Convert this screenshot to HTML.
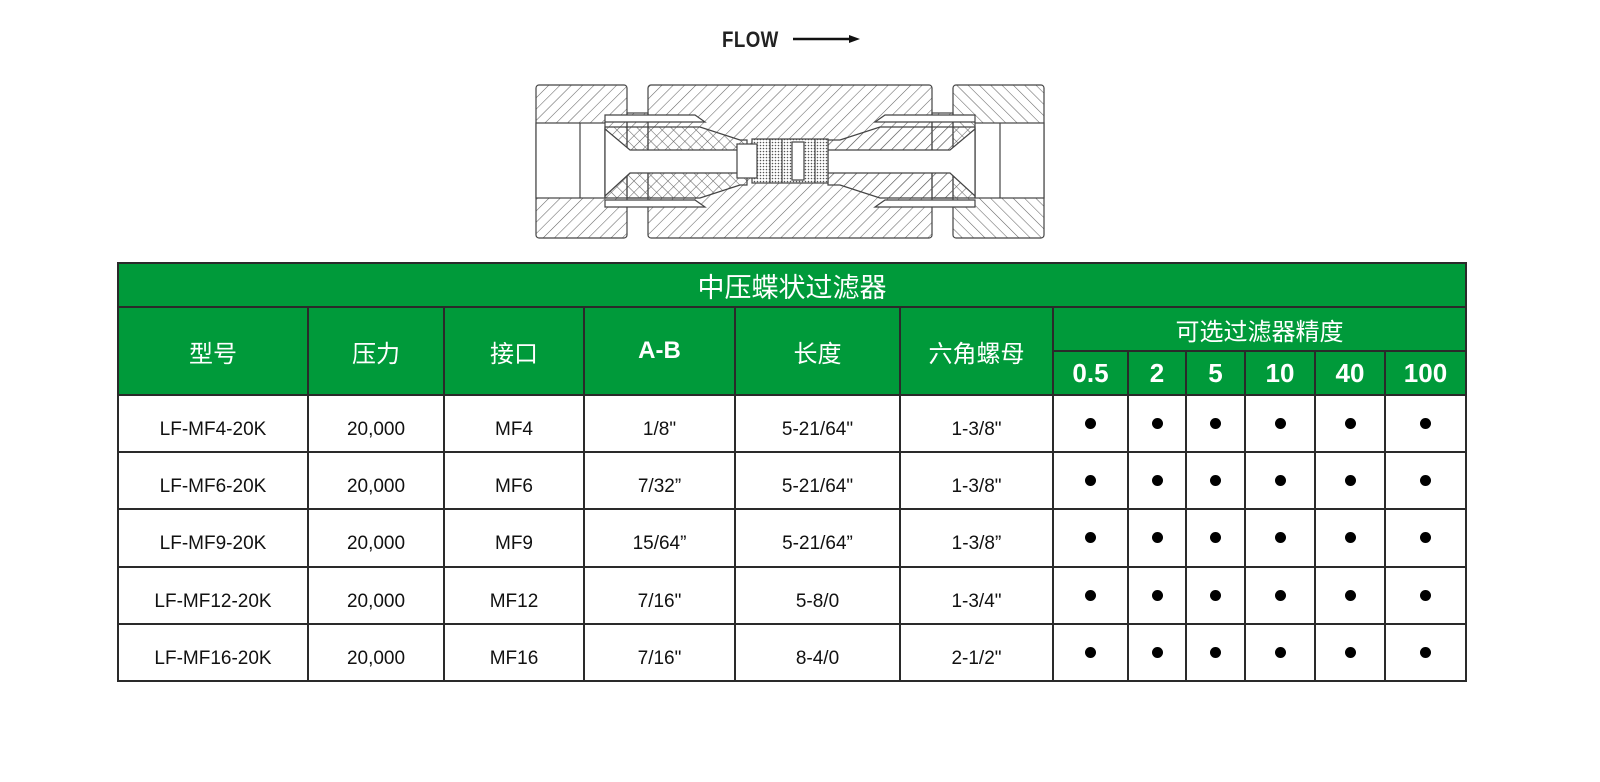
<!DOCTYPE html>
<html><head><meta charset="utf-8">
<style>
html,body{margin:0;padding:0;background:#fff;width:1600px;height:782px;overflow:hidden;position:relative}
.t{position:absolute;left:117px;top:262px;border-collapse:collapse;table-layout:fixed;font-family:"Liberation Sans","Noto Sans CJK SC",sans-serif}
.t td{border:2px solid #2a2a2a;text-align:center;padding:0;color:#111;font-size:19px}
.r td{padding-top:12px}
.r td.c{padding-top:0}
.g td{background:#009a3a;color:#fff;font-size:24px}
.b{font-weight:bold;font-size:26px!important}
.ab{font-weight:bold;font-size:24px!important}
.d{display:inline-block;width:11px;height:11px;border-radius:50%;background:#000}
</style></head><body>
<div style="position:absolute;left:722px;top:27px;font-family:'Liberation Sans',sans-serif;font-weight:bold;font-size:22px;letter-spacing:0.5px;color:#222;transform:scaleX(0.85);transform-origin:left">FLOW</div>
<svg style="position:absolute;left:0;top:0" width="1600" height="250">
<defs>
<pattern id="h1" width="8" height="8" patternUnits="userSpaceOnUse" patternTransform="rotate(45)"><line x1="0" y1="0" x2="0" y2="8" stroke="#666" stroke-width="1.1"/></pattern>
<pattern id="h2" width="8" height="8" patternUnits="userSpaceOnUse" patternTransform="rotate(-45)"><line x1="0" y1="0" x2="0" y2="8" stroke="#666" stroke-width="1.1"/></pattern>
<pattern id="dt" width="3" height="3" patternUnits="userSpaceOnUse"><rect width="3" height="3" fill="#fff"/><circle cx="1.5" cy="1.5" r="0.8" fill="#555"/></pattern>
</defs>
<line x1="793" y1="39" x2="852" y2="39" stroke="#111" stroke-width="2.5"/>
<polygon points="849,35 860,39 849,43" fill="#111"/>
<g stroke="#444" stroke-width="1.2">
<rect x="627" y="113" width="21" height="85" fill="url(#h1)"/>
<rect x="932" y="113" width="21" height="85" fill="url(#h1)"/>
<rect x="536" y="85" width="91" height="153" rx="3" fill="url(#h1)"/>
<rect x="648" y="85" width="284" height="153" rx="3" fill="url(#h1)"/>
<rect x="953" y="85" width="91" height="153" rx="3" fill="url(#h2)"/>
<rect x="536" y="123" width="69" height="75" fill="#fff"/>
<line x1="580" y1="123" x2="580" y2="198"/>
<rect x="975" y="123" width="69" height="75" fill="#fff"/>
<line x1="1000" y1="123" x2="1000" y2="198"/>
<path d="M605 115 L695 115 L705 122 L605 122 Z M605 200 L695 200 L705 207 L605 207 Z" fill="#fff"/>
<path d="M975 115 L885 115 L875 122 L975 122 Z M975 200 L885 200 L875 207 L975 207 Z" fill="#fff"/>
<polygon points="605,127 700,127 740,140 747,140 747,185 740,185 700,198 605,198" fill="url(#h2)"/>
<polygon points="975,127 880,127 840,140 828,140 828,185 840,185 880,198 975,198" fill="url(#h1)"/>
<polygon points="605,129 630,150 747,150 747,173 630,173 605,196" fill="#fff"/>
<polygon points="975,129 950,150 828,150 828,173 950,173 975,196" fill="#fff"/>
<rect x="752" y="139" width="76" height="44" fill="url(#dt)"/>
<rect x="737" y="144" width="20" height="34" fill="#fff"/>
<rect x="792" y="142" width="12" height="38" fill="#fff"/>
<line x1="770" y1="139" x2="770" y2="183"/><line x1="782" y1="139" x2="782" y2="183"/><line x1="815" y1="139" x2="815" y2="183"/>
</g>
</svg>
<table class="t">
<colgroup><col style="width:190px"><col style="width:136px"><col style="width:140px"><col style="width:151px"><col style="width:165px"><col style="width:153px"><col style="width:75px"><col style="width:58px"><col style="width:59px"><col style="width:70px"><col style="width:70px"><col style="width:81px"></colgroup>
<tr class="g" style="height:44px"><td colspan="12" style="font-size:27px">中压蝶状过滤器</td></tr>
<tr class="g" style="height:44px"><td rowspan="2">型号</td><td rowspan="2">压力</td><td rowspan="2">接口</td><td rowspan="2" class="ab">A-B</td><td rowspan="2">长度</td><td rowspan="2">六角螺母</td><td colspan="6">可选过滤器精度</td></tr>
<tr class="g" style="height:44px"><td class="b">0.5</td><td class="b">2</td><td class="b">5</td><td class="b">10</td><td class="b">40</td><td class="b">100</td></tr>
<tr class="r" style="height:57px"><td>LF-MF4-20K</td><td>20,000</td><td>MF4</td><td>1/8"</td><td>5-21/64"</td><td>1-3/8"</td><td class="c"><span class="d"></span></td><td class="c"><span class="d"></span></td><td class="c"><span class="d"></span></td><td class="c"><span class="d"></span></td><td class="c"><span class="d"></span></td><td class="c"><span class="d"></span></td></tr>
<tr class="r" style="height:57px"><td>LF-MF6-20K</td><td>20,000</td><td>MF6</td><td>7/32”</td><td>5-21/64"</td><td>1-3/8"</td><td class="c"><span class="d"></span></td><td class="c"><span class="d"></span></td><td class="c"><span class="d"></span></td><td class="c"><span class="d"></span></td><td class="c"><span class="d"></span></td><td class="c"><span class="d"></span></td></tr>
<tr class="r" style="height:58px"><td>LF-MF9-20K</td><td>20,000</td><td>MF9</td><td>15/64”</td><td>5-21/64”</td><td>1-3/8”</td><td class="c"><span class="d"></span></td><td class="c"><span class="d"></span></td><td class="c"><span class="d"></span></td><td class="c"><span class="d"></span></td><td class="c"><span class="d"></span></td><td class="c"><span class="d"></span></td></tr>
<tr class="r" style="height:57px"><td>LF-MF12-20K</td><td>20,000</td><td>MF12</td><td>7/16"</td><td>5-8/0</td><td>1-3/4"</td><td class="c"><span class="d"></span></td><td class="c"><span class="d"></span></td><td class="c"><span class="d"></span></td><td class="c"><span class="d"></span></td><td class="c"><span class="d"></span></td><td class="c"><span class="d"></span></td></tr>
<tr class="r" style="height:57px"><td>LF-MF16-20K</td><td>20,000</td><td>MF16</td><td>7/16"</td><td>8-4/0</td><td>2-1/2"</td><td class="c"><span class="d"></span></td><td class="c"><span class="d"></span></td><td class="c"><span class="d"></span></td><td class="c"><span class="d"></span></td><td class="c"><span class="d"></span></td><td class="c"><span class="d"></span></td></tr>
</table>
</body></html>
